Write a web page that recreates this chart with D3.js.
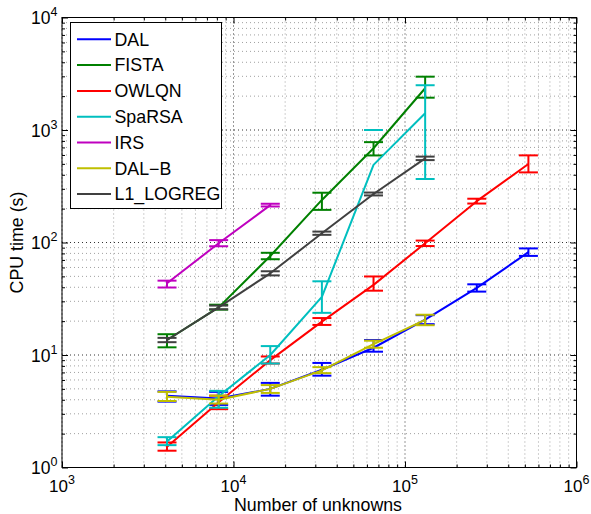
<!DOCTYPE html>
<html><head><meta charset="utf-8">
<script src="https://cdn.jsdelivr.net/npm/d3@7"></script>
<style>
body{margin:0;background:#fff}
svg{display:block}
text{font-family:"Liberation Sans",Arial,Helvetica,sans-serif;fill:#000}
</style>
</head><body>
<svg id="c" width="591" height="514"></svg>
<script>
// ---------------- data ----------------
const nUnknowns = [4096, 8192, 16384, 32768, 65536, 131072, 262144, 524288];
const seriesNames = ["DAL", "FISTA", "OWLQN", "SpaRSA", "IRS", "DAL\u2212B", "L1_LOGREG"];
const seriesColors = ["#0000ff", "#008000", "#ff0000", "#00bfbf", "#bf00bf", "#bfbf00", "#404040"];

const dalMean   = [4.35, 4.1, 5.0, 7.4, 11.6, 20.6, 39.5, 82];
const dalLo     = [3.85, 3.6, 4.35, 6.55, 10.7, 18.8, 36.6, 76];
const dalHi     = [4.75, 4.7, 5.65, 8.5, 13.6, 22.6, 42.5, 88.6];

const fistaMean = [13.6, 26.5, 75.8, 239, 688, 2350];
const fistaLo   = [11.7, 25.3, 71, 195, 594, 1937];
const fistaHi   = [15.3, 28, 81, 277, 780, 2978];

const owlqnMean = [1.53, 3.8, 9.0, 19.8, 42, 98.5, 233, 498];
const owlqnLo   = [1.41, 3.3, 8.4, 18.5, 37.3, 93, 222, 420];
const owlqnHi   = [1.67, 4.35, 9.7, 21.3, 49.9, 104, 245, 595];

const sparsaMean = [1.70, 4.3, 10.0, 32.9, 490, 1408];
const sparsaLo   = [1.58, 3.4, 8.4, 23.7, null, 367];
const sparsaHi   = [1.86, 4.8, 12.0, 45.2, 1000, 2500];

const irsMean = [43.4, 98.4, 215];
const irsLo   = [39.8, 92.6, 209];
const irsHi   = [45.8, 105, 221];

const dalbMean = [4.25, 4.0, 5.0, 7.3, 12.5, 20.5];
const dalbLo   = [3.9, 3.7, 4.6, 6.9, 11.6, 18.4];
const dalbHi   = [4.7, 4.35, 5.4, 7.8, 13.4, 22.8];

const l1Mean = [13.6, 26.5, 53.2, 121, 270, 560];
const l1Lo   = [13.0, 25.5, 51, 117, 262, 540];
const l1Hi   = [14.2, 27.5, 55.5, 125, 278, 580];

const xMajorTicks = [1e3, 1e4, 1e5, 1e6];
const yMajorTicks = [1e0, 1e1, 1e2, 1e3, 1e4];
const xTickExps = ["3", "4", "5", "6"];
const yTickExps = ["0", "1", "2", "3", "4"];
const xLabel = "Number of unknowns";
const yLabel = "CPU time (s)";

// ---------------- layout ----------------
const L = 62, R = 576.5, T = 17.5, B = 467.5;
const FS = 17.8;
const svg = d3.select("#c");
const x = d3.scaleLog().domain([1e3, 1e6]).range([L, R]);
const y = d3.scaleLog().domain([1e0, 1e4]).range([B, T]);

function minors(lo, hi) {
  const out = [];
  for (let e = lo; e < hi; e++) for (let k = 2; k <= 9; k++) out.push(k * Math.pow(10, e));
  return out;
}
const xMinor = minors(3, 6);
const yMinor = minors(0, 4);

// grid
const grid = svg.append("g");
grid.selectAll(".gxm").data(xMinor).join("line")
  .attr("x1", d => x(d)).attr("x2", d => x(d)).attr("y1", T).attr("y2", B)
  .attr("stroke", "#a0a0a0").attr("stroke-width", 1).attr("stroke-dasharray", "1,3");
grid.selectAll(".gym").data(yMinor).join("line")
  .attr("y1", d => y(d)).attr("y2", d => y(d)).attr("x1", L).attr("x2", R)
  .attr("stroke", "#a0a0a0").attr("stroke-width", 1).attr("stroke-dasharray", "1,3");
grid.selectAll(".gxM").data(xMajorTicks).join("line")
  .attr("x1", d => x(d)).attr("x2", d => x(d)).attr("y1", T).attr("y2", B)
  .attr("stroke", "#333").attr("stroke-width", 1).attr("stroke-dasharray", "1,3");
grid.selectAll(".gyM").data(yMajorTicks).join("line")
  .attr("y1", d => y(d)).attr("y2", d => y(d)).attr("x1", L).attr("x2", R)
  .attr("stroke", "#333").attr("stroke-width", 1).attr("stroke-dasharray", "1,3");

// axes ticks (inward, all four sides)
function addAxis(gen, tx, ty, vals, size) {
  const g = svg.append("g").attr("transform", `translate(${tx},${ty})`)
    .call(gen.tickValues(vals).tickSizeInner(-size).tickSizeOuter(0).tickFormat(""));
  g.select(".domain").remove();
  g.selectAll("line").attr("stroke", "#000");
  return g;
}
addAxis(d3.axisBottom(x), 0, B, xMajorTicks, 6);
addAxis(d3.axisBottom(x), 0, B, xMinor, 3);
addAxis(d3.axisTop(x), 0, T, xMajorTicks, 6);
addAxis(d3.axisTop(x), 0, T, xMinor, 3);
addAxis(d3.axisLeft(y), L, 0, yMajorTicks, 6);
addAxis(d3.axisLeft(y), L, 0, yMinor, 3);
addAxis(d3.axisRight(y), R, 0, yMajorTicks, 6);
addAxis(d3.axisRight(y), R, 0, yMinor, 3);

svg.append("rect").attr("x", L).attr("y", T).attr("width", R - L).attr("height", B - T)
  .attr("fill", "none").attr("stroke", "#000").attr("stroke-width", 1);

// tick labels
xMajorTicks.forEach((v, i) => {
  const t = svg.append("text").attr("x", x(v)).attr("y", 491.5)
    .attr("text-anchor", "middle").attr("font-size", 17);
  t.append("tspan").text("10");
  t.append("tspan").attr("dy", -8).attr("font-size", 12.5).text(xTickExps[i]);
});
yMajorTicks.forEach((v, i) => {
  const t = svg.append("text").attr("x", 57.5).attr("y", y(v) + 6.5)
    .attr("text-anchor", "end").attr("font-size", 17.5);
  t.append("tspan").text("10");
  t.append("tspan").attr("dy", -8).attr("font-size", 12.5).text(yTickExps[i]);
});

svg.append("text").attr("x", 318).attr("y", 511).attr("text-anchor", "middle")
  .attr("font-size", FS).text(xLabel);
svg.append("text").attr("transform", `translate(22.5,${(T + B) / 2}) rotate(-90)`)
  .attr("text-anchor", "middle").attr("font-size", FS).text(yLabel);

// series
const seriesData = [
  [dalMean, dalLo, dalHi],
  [fistaMean, fistaLo, fistaHi],
  [owlqnMean, owlqnLo, owlqnHi],
  [sparsaMean, sparsaLo, sparsaHi],
  [irsMean, irsLo, irsHi],
  [dalbMean, dalbLo, dalbHi],
  [l1Mean, l1Lo, l1Hi]
];
const capHalf = 9.5;
const line = d3.line().x(d => x(d[0])).y(d => y(d[1]));
const plot = svg.append("g");
seriesData.forEach(([m, lo, hi], si) => {
  const col = seriesColors[si];
  const g = plot.append("g");
  const pts = m.map((v, i) => [nUnknowns[i], v, lo[i], hi[i]]);
  g.append("path").attr("d", line(pts)).attr("fill", "none").attr("stroke", col)
    .attr("stroke-width", 2).attr("stroke-linejoin", "round");
  pts.forEach(p => {
    const cx = x(p[0]);
    if (p[2] != null) {
      g.append("line").attr("x1", cx).attr("x2", cx).attr("y1", y(p[2])).attr("y2", y(p[3]))
        .attr("stroke", col).attr("stroke-width", 2);
      g.append("line").attr("x1", cx - capHalf).attr("x2", cx + capHalf).attr("y1", y(p[2])).attr("y2", y(p[2]))
        .attr("stroke", col).attr("stroke-width", 2);
    }
    g.append("line").attr("x1", cx - capHalf).attr("x2", cx + capHalf).attr("y1", y(p[3])).attr("y2", y(p[3]))
      .attr("stroke", col).attr("stroke-width", 2);
  });
});

// legend
const lg = svg.append("g");
lg.append("rect").attr("x", 70.5).attr("y", 22.5).attr("width", 151).attr("height", 186)
  .attr("fill", "#fff").attr("stroke", "#000").attr("stroke-width", 1);
seriesNames.forEach((name, i) => {
  const ly = 39.3 + i * 25.8;
  lg.append("line").attr("x1", 77).attr("x2", 111).attr("y1", ly).attr("y2", ly)
    .attr("stroke", seriesColors[i]).attr("stroke-width", 2);
  lg.append("text").attr("x", 114.5).attr("y", ly + 6.3).attr("font-size", FS).text(name);
});
</script>
</body></html>
